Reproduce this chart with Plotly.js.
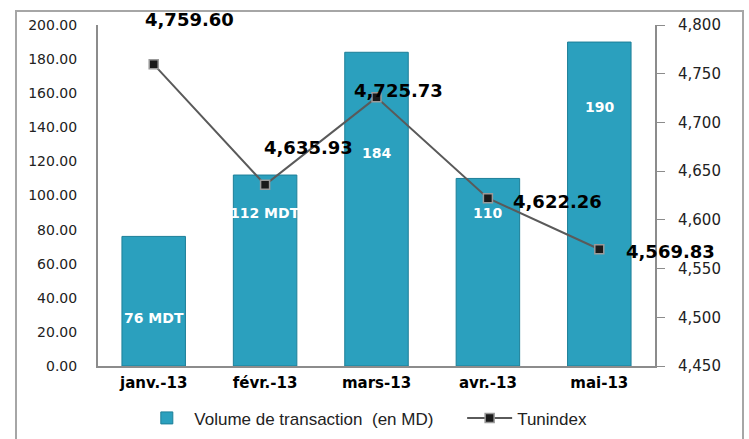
<!DOCTYPE html>
<html>
<head>
<meta charset="utf-8">
<script src="https://cdn.plot.ly/plotly-3.0.1.min.js"></script>
<style>
  html, body { margin: 0; padding: 0; background: #fff; }
  #frame { position: absolute; left: 15px; top: 10px; width: 729px; height: 440px; border: 2px solid #a6a6a6; box-sizing: border-box; }
  #chart { position: absolute; left: 0; top: 0; width: 749px; height: 439px; }
</style>
</head>
<body>
<div id="frame"></div>
<div id="chart"></div>
<script>
// ---- data ----
var months = ["janv.-13", "févr.-13", "mars-13", "avr.-13", "mai-13"];
var volume = [76, 112, 184, 110, 190];               // Volume de transaction (en MD)
var volumeLabels = ["76 MDT", "112 MDT", "184", "110", "190"];
var tunindex = [4759.60, 4635.93, 4725.73, 4622.26, 4569.83];
var tunindexLabels = ["4,759.60", "4,635.93", "4,725.73", "4,622.26", "4,569.83"];

// ---- label placement (style, not data) ----
var volLabelLevel = [28, 90, 125, 90, 152];         // height on left axis where label sits
var idxLabelShiftX = [36, 43, 22, 70, 71];
var idxLabelShiftY = [45, 37, 7, -3, -2];

var bars = {
  type: "bar", name: "Volume de transaction  (en MD)",
  x: months, y: volume, legend: "legend",
  marker: { color: "#2ba0be", line: { color: "#1d7f98", width: 1 } },
  hoverinfo: "skip"
};
var line = {
  type: "scatter", mode: "lines+markers", name: "Tunindex",
  x: months, y: tunindex, yaxis: "y2", legend: "legend2",
  line: { color: "#5a5a5a", width: 2 },
  marker: { symbol: "square", size: 9, color: "#1a1a1a", line: { color: "#9a9a9a", width: 1.5 } },
  hoverinfo: "skip"
};

var annotations = [];
months.forEach(function (m, i) {
  annotations.push({
    x: m, y: volLabelLevel[i], xref: "x", yref: "y",
    text: volumeLabels[i], showarrow: false,
    font: { family: "DejaVu Sans", size: 14, color: "#ffffff", weight: "bold" }
  });
  annotations.push({
    x: m, y: tunindex[i], xref: "x", yref: "y2",
    text: "<b>" + tunindexLabels[i] + "</b>", showarrow: false,
    xshift: idxLabelShiftX[i], yshift: idxLabelShiftY[i],
    font: { family: "DejaVu Sans", size: 18, color: "#000000" }
  });
});

var legendBase = {
  orientation: "h", xref: "container", yref: "container",
  xanchor: "left", y: 0.047, yanchor: "middle",
  font: { family: "Liberation Sans", size: 17, color: "#222" },
  itemwidth: 45, bgcolor: "rgba(0,0,0,0)"
};

var layout = {
  width: 749, height: 439,
  margin: { l: 98, r: 94, t: 25, b: 73, autoexpand: false },
  paper_bgcolor: "rgba(0,0,0,0)", plot_bgcolor: "rgba(0,0,0,0)",
  bargap: 0.43,
  showlegend: true,
  legend: Object.assign({}, legendBase, { x: 0.186 }),
  legend2: Object.assign({}, legendBase, { x: 0.617 }),
  xaxis: {
    type: "category", range: [-0.5, 4.5],
    showline: true, linecolor: "#8c8c8c", linewidth: 2,
    ticks: "", showgrid: false, zeroline: false,
    tickfont: { family: "DejaVu Sans", size: 15, color: "#000", weight: "bold" },
    ticklabelstandoff: 2
  },
  yaxis: {
    range: [0, 200], dtick: 20, tickformat: ".2f",
    showline: true, linecolor: "#8c8c8c", linewidth: 2,
    ticks: "", showgrid: false, zeroline: false,
    tickfont: { family: "DejaVu Sans", size: 14, color: "#222" },
    ticklabelstandoff: 16
  },
  yaxis2: {
    overlaying: "y", side: "right",
    range: [4450, 4800], dtick: 50, tickformat: ",d",
    showline: true, linecolor: "#8c8c8c", linewidth: 2,
    ticks: "outside", ticklen: 8, tickcolor: "#8c8c8c", tickwidth: 1,
    showgrid: false, zeroline: false,
    tickfont: { family: "DejaVu Sans", size: 15, color: "#222" },
    ticklabelstandoff: 10
  },
  annotations: annotations
};

Plotly.newPlot("chart", [bars, line], layout, { displayModeBar: false, staticPlot: true });
</script>
</body>
</html>
